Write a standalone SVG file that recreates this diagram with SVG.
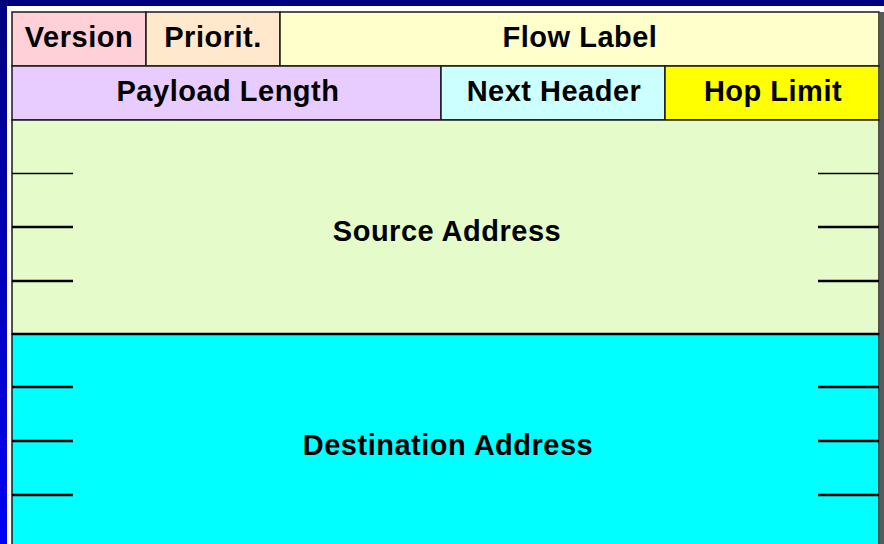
<svg xmlns="http://www.w3.org/2000/svg" width="884" height="544" viewBox="0 0 884 544">
<defs>
<linearGradient id="bg" x1="0" y1="0" x2="0" y2="1">
<stop offset="0" stop-color="#000080"/>
<stop offset="1" stop-color="#0000f4"/>
</linearGradient>
</defs>
<style>
.cell{stroke:#1a1a1a;stroke-width:1.5}
.lbl{font-family:"Liberation Sans",Arial,sans-serif;font-weight:bold;font-size:29px;letter-spacing:0.5px;fill:#000;text-anchor:middle}
.tk{stroke:#000;stroke-width:2.5}
.tk1{stroke:#000;stroke-width:1.5}
</style>
<rect x="0" y="0" width="884" height="544" fill="url(#bg)"/>
<rect x="7" y="6" width="877" height="538" fill="#ffffff"/>
<rect x="880" y="12" width="4" height="532" fill="#5a5a5a"/>
<g id="version"><rect class="cell" x="12" y="12" width="134" height="54" fill="#ffd0d8"/><text class="lbl" x="79" y="47">Version</text></g>
<g id="priority"><rect class="cell" x="146" y="12" width="134" height="54" fill="#ffe8cc"/><text class="lbl" x="213" y="47">Priorit.</text></g>
<g id="flow-label"><rect class="cell" x="280" y="12" width="599" height="54" fill="#ffffcc"/><text class="lbl" x="580" y="47">Flow Label</text></g>
<g id="payload-length"><rect class="cell" x="12" y="66" width="429" height="54" fill="#e8ccff"/><text class="lbl" x="228" y="101">Payload Length</text></g>
<g id="next-header"><rect class="cell" x="441" y="66" width="224" height="54" fill="#ccffff"/><text class="lbl" x="554" y="101">Next Header</text></g>
<g id="hop-limit"><rect class="cell" x="665" y="66" width="214" height="54" fill="#ffff00"/><text class="lbl" x="773" y="101">Hop Limit</text></g>
<g id="source-address"><rect class="cell" x="12" y="120" width="867" height="214" fill="#e5fbca"/><text class="lbl" x="447" y="241">Source Address</text></g>
<g id="destination-address"><rect class="cell" x="12" y="334" width="867" height="230" fill="#00ffff"/><text class="lbl" x="448" y="455">Destination Address</text></g>
<g id="connectors">
<line class="tk1" x1="12" y1="173.5" x2="73" y2="173.5"/>
<line class="tk1" x1="818" y1="173.5" x2="879" y2="173.5"/>
<line class="tk" x1="12" y1="227" x2="73" y2="227"/>
<line class="tk" x1="818" y1="227" x2="879" y2="227"/>
<line class="tk" x1="12" y1="281" x2="73" y2="281"/>
<line class="tk" x1="818" y1="281" x2="879" y2="281"/>
<line class="tk" x1="12" y1="334" x2="879" y2="334"/>
<line class="tk" x1="12" y1="387" x2="73" y2="387"/>
<line class="tk" x1="818" y1="387" x2="879" y2="387"/>
<line class="tk" x1="12" y1="441" x2="73" y2="441"/>
<line class="tk" x1="818" y1="441" x2="879" y2="441"/>
<line class="tk" x1="12" y1="495" x2="73" y2="495"/>
<line class="tk" x1="818" y1="495" x2="879" y2="495"/>
</g>
</svg>
